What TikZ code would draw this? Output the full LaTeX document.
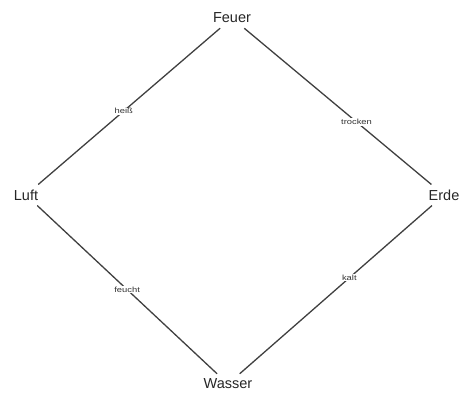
\documentclass[tikz,border=0pt]{standalone}
\usepackage{fontspec}
\setmainfont{Liberation Sans}
\begin{document}
\begin{tikzpicture}[x=1pt,y=-1pt,
  elem/.style={font=\fontsize{14.5}{16}\selectfont, inner sep=5pt, text=black!85},
  edge/.style={draw=black!75, line width=1.3pt},
  lbl/.style={font=\fontsize{7.5}{8}\selectfont, xscale=1.25, fill=white, inner sep=0.8pt, text=black!80}]
\useasboundingbox (0,0) rectangle (460,398);
\node[elem] (F) at (232,18) {Feuer};
\node[elem] (L) at (26,195) {Luft};
\node[elem] (E) at (444,195) {Erde};
\node[elem] (W) at (228,384) {Wasser};
\draw[edge] (F) -- node[lbl, pos=0.53] {heiß} (L);
\draw[edge] (F) -- node[lbl, pos=0.6] {trocken} (E);
\draw[edge] (L) -- node[lbl, pos=0.5] {feucht} (W);
\draw[edge] (E) -- node[lbl, pos=0.43] {kalt} (W);
\end{tikzpicture}
\end{document}
